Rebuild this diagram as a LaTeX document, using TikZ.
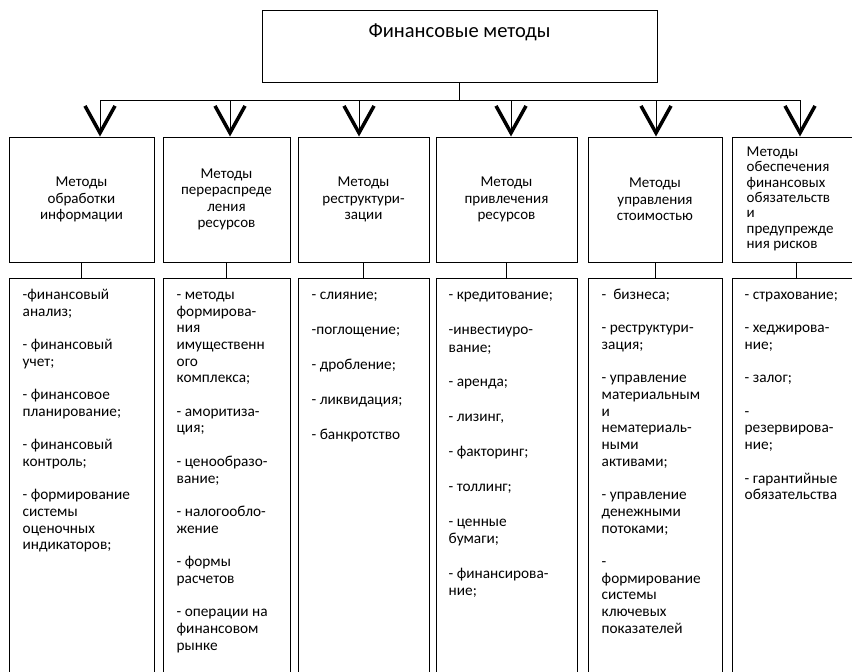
\documentclass[tikz,border=0pt]{standalone}
\usepackage{fontspec}
\setmainfont{Carlito}
\usetikzlibrary{positioning,arrows.meta}
\newcommand{\skipln}{\\[\baselineskip]}
\tikzset{
  methbox/.style={draw, line width=1pt, inner sep=0pt},
  headbox/.style={methbox, minimum height=125pt, align=center, font=\fontsize{15}{16.5}\selectfont},
  listbox/.style={methbox, minimum height=430pt},
  listtext/.style={inner sep=0pt, align=left, font=\fontsize{15.3}{16.7}\selectfont},
  fork/.style={line width=1pt, -{Straight Barb[length=27pt,width=30pt,line width=3.5pt]}},
}
\begin{document}
\begin{tikzpicture}[x=1pt,y=-1pt]
\useasboundingbox (0,0) rectangle (852,672);
\clip (0,0) rectangle (852,672);
% top box
\node[methbox, minimum width=395pt, minimum height=72pt] (top) at (459.5,46) {};
\node[inner sep=0pt, font=\fontsize{20.5}{24}\selectfont, below=14pt of top.north] (toptext) {Финансовые методы};
% groups of methods
\node[headbox, minimum width=145pt] (h1) at (81.5,199.5) {Методы\\обработки\\информации};
\node[headbox, minimum width=127pt] (h2) at (226.5,199.5) {Методы\\перераспреде\\ления\\ресурсов};
\node[headbox, minimum width=131pt] (h3) at (363.5,199.5) {Методы\\реструктури-\\зации};
\node[headbox, minimum width=141pt] (h4) at (506.5,199.5) {Методы\\привлечения\\ресурсов};
\node[headbox, minimum width=134pt] (h5) at (655,199.5) {Методы\\управления\\стоимостью};
\node[headbox, minimum width=128pt] (h6) at (796,199.5) {};
\node[listtext, font=\fontsize{15}{15.4}\selectfont, below right=10pt and 15pt of h6.north west] (h6text) {Методы\\обеспечения\\финансовых\\обязательств\\и\\предупрежде\\ния рисков};
% bus and arrows
\coordinate (a1) at (100,100);
\coordinate (a2) at (230,100);
\coordinate (a3) at (359,100);
\coordinate (a4) at (511,100);
\coordinate (a5) at (656,100);
\coordinate (a6) at (800,100);
\draw[line width=1pt] (top.south) -- (top.south |- a1);
\draw[line width=1pt] (a1) -- (a6);
\draw[fork] (a1) -- (a1 |- h1.north);
\draw[fork] (a2) -- (a2 |- h2.north);
\draw[fork] (a3) -- (a3 |- h3.north);
\draw[fork] (a4) -- (a4 |- h4.north);
\draw[fork] (a5) -- (a5 |- h5.north);
\draw[fork] (a6) -- (a6 |- h6.north);
% lists
\node[listbox, minimum width=145pt, below=15pt of h1] (l1) {};
\node[listbox, minimum width=127pt, below=15pt of h2] (l2) {};
\node[listbox, minimum width=131pt, below=15pt of h3] (l3) {};
\node[listbox, minimum width=141pt, below=15pt of h4] (l4) {};
\node[listbox, minimum width=134pt, below=15pt of h5] (l5) {};
\node[listbox, minimum width=128pt, below=15pt of h6] (l6) {};
\draw[line width=1pt] (h1) -- (l1);
\draw[line width=1pt] (h2) -- (l2);
\draw[line width=1pt] (h3) -- (l3);
\draw[line width=1pt] (h4) -- (l4);
\draw[line width=1pt] (h5) -- (l5);
\draw[line width=1pt] (h6) -- (l6);
\node[listtext, below right=10pt and 14pt of l1.north west] (t1) {\strut-финансовый\\анализ;\skipln
- финансовый\\учет;\skipln
- финансовое\\планирование;\skipln
- финансовый\\контроль;\skipln
- формирование\\системы\\оценочных\\индикаторов;};
\node[listtext, below right=10pt and 14pt of l2.north west] (t2) {\strut- методы\\формирова-\\ния\\имущественн\\ого\\комплекса;\skipln
- аморитиза-\\ция;\skipln
- ценообразо-\\вание;\skipln
- налогообло-\\жение\skipln
- формы\\расчетов\skipln
- операции на\\финансовом\\рынке};
\node[listtext, font=\fontsize{15.3}{17.5}\selectfont, below right=10pt and 14pt of l3.north west] (t3) {\strut- слияние;\skipln
-поглощение;\skipln
- дробление;\skipln
- ликвидация;\skipln
- банкротство};
\node[listtext, font=\fontsize{15.3}{17.4}\selectfont, below right=10pt and 13pt of l4.north west] (t4) {\strut- кредитование;\skipln
-инвестиуро-\\вание;\skipln
- аренда;\skipln
- лизинг,\skipln
- факторинг;\skipln
- толлинг;\skipln
- ценные\\бумаги;\skipln
- финансирова-\\ние;};
\node[listtext, below right=10pt and 14pt of l5.north west] (t5) {\strut-\ \ бизнеса;\skipln
- реструктури-\\зация;\skipln
- управление\\материальным\\и\\нематериаль-\\ными\\активами;\skipln
- управление\\денежными\\потоками;\skipln
-\\формирование\\системы\\ключевых\\показателей};
\node[listtext, below right=10pt and 13pt of l6.north west] (t6) {\strut- страхование;\skipln
- хеджирова-\\ние;\skipln
- залог;\skipln
-\\резервирова-\\ние;\skipln
- гарантийные\\обязательства};
\end{tikzpicture}
\end{document}
